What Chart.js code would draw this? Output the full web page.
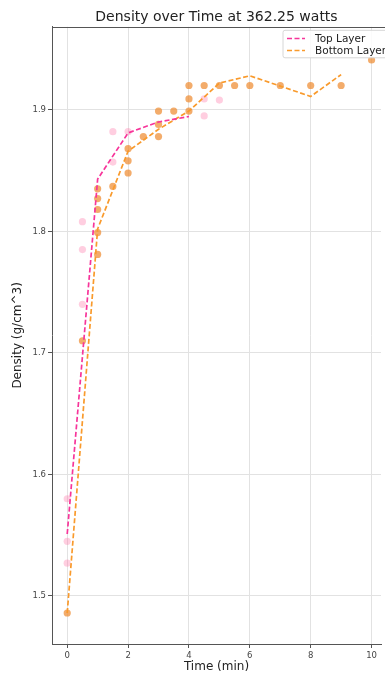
<!DOCTYPE html>
<html>
<head>
<meta charset="utf-8">
<script src="https://cdn.jsdelivr.net/npm/chart.js@4.4.1/dist/chart.umd.min.js"></script>
<style>
  html, body { margin: 0; padding: 0; background: #ffffff; overflow: hidden; }
  #wrap { width: 385px; height: 673px; }
  canvas { display: block; }
</style>
</head>
<body>
<div id="wrap"><canvas id="c" width="385" height="673"></canvas></div>
<script>
// ---- data ----
const chartTitle = "Density over Time at 362.25 watts";
const xAxisLabel = "Time (min)";
const yAxisLabel = "Density (g/cm^3)";

const xTickStep = 2;
const yTickStep = 0.1;

// scatter samples (Top Layer)
const topTimes   = [0, 0, 0, 0.5, 0.5, 0.5, 1.5, 1.5, 2, 4.5, 4.5, 5];
const topDensity = [1.580, 1.545, 1.527, 1.808, 1.785, 1.740, 1.882, 1.857, 1.882, 1.909, 1.895, 1.908];

// scatter samples (Bottom Layer)
const bottomTimes   = [0, 0.5, 1, 1, 1, 1, 1, 1.5, 2, 2, 2, 2.5, 3, 3, 3, 3.5, 4, 4, 4, 4.5, 5, 5.5, 6, 7, 8, 9, 10];
const bottomDensity = [1.486, 1.710, 1.835, 1.827, 1.818, 1.799, 1.781, 1.837, 1.868, 1.858, 1.848, 1.878, 1.899, 1.888, 1.878, 1.899, 1.920, 1.909, 1.899, 1.920, 1.920, 1.920, 1.920, 1.920, 1.920, 1.920, 1.941];

// dashed mean lines
const topLineTimes   = [0, 1, 2, 3, 4];
const topLineDensity = [1.551, 1.843, 1.881, 1.890, 1.8945];
const bottomLineTimes   = [0, 1, 2, 3, 4, 5, 6, 8, 9];
const bottomLineDensity = [1.486, 1.802, 1.866, 1.884, 1.899, 1.922, 1.928, 1.911, 1.929];

const seriesLabels = ["Top Layer", "Bottom Layer"];

// ---- build ----
const toPts = (xs, ys) => xs.map((x, i) => ({ x: x, y: ys[i] }));
const FONT = "'DejaVu Sans', 'Liberation Sans', sans-serif";

const framePlugin = {
  id: 'frame',
  beforeDatasetsDraw(chart) {
    const { ctx, chartArea: a } = chart;
    ctx.save();
    ctx.strokeStyle = '#555555';
    ctx.lineWidth = 1;
    ctx.beginPath();
    const y = Math.round(a.top) + 0.5;
    ctx.moveTo(a.left, y);
    ctx.lineTo(chart.width, y);
    ctx.stroke();
    ctx.restore();
  }
};

const legendPlugin = {
  id: 'mplLegend',
  afterDraw(chart) {
    const { ctx, chartArea: a } = chart;
    const items = chart.data.datasets.filter(d => d.showLine);
    const x0 = 283, y0 = a.top + 3.5, w = 110, h = 27.5;
    ctx.save();
    ctx.beginPath();
    ctx.roundRect(x0, y0, w, h, 2);
    ctx.fillStyle = 'rgba(255,255,255,0.85)';
    ctx.fill();
    ctx.strokeStyle = '#d6d6d6';
    ctx.lineWidth = 1;
    ctx.stroke();
    items.forEach((d, i) => {
      const y = y0 + 8.2 + i * 12;
      ctx.beginPath();
      ctx.setLineDash(d.borderDash);
      ctx.strokeStyle = d.borderColor;
      ctx.lineWidth = d.borderWidth;
      ctx.moveTo(x0 + 4, y);
      ctx.lineTo(x0 + 22, y);
      ctx.stroke();
      ctx.setLineDash([]);
      ctx.fillStyle = '#222222';
      ctx.font = '10.5px ' + FONT;
      ctx.textBaseline = 'middle';
      ctx.textAlign = 'left';
      ctx.fillText(d.label, x0 + 32, y + 0.5);
    });
    ctx.restore();
  }
};

new Chart(document.getElementById('c'), {
  type: 'scatter',
  data: {
    datasets: [
      {
        label: seriesLabels[0],
        data: toPts(topLineTimes, topLineDensity),
        showLine: true,
        borderColor: '#f7359a',
        borderWidth: 1.7,
        borderDash: [5, 2.5],
        pointRadius: 0,
        fill: false,
        order: 0
      },
      {
        label: seriesLabels[1],
        data: toPts(bottomLineTimes, bottomLineDensity),
        showLine: true,
        borderColor: '#f99a2c',
        borderWidth: 1.7,
        borderDash: [5, 2.5],
        pointRadius: 0,
        fill: false,
        order: 1
      },
      {
        label: seriesLabels[0] + ' samples',
        data: toPts(topTimes, topDensity),
        backgroundColor: 'rgba(255,120,170,0.36)',
        borderWidth: 0,
        pointRadius: 3.6,
        order: 3
      },
      {
        label: seriesLabels[1] + ' samples',
        data: toPts(bottomTimes, bottomDensity),
        backgroundColor: 'rgba(238,140,50,0.72)',
        borderWidth: 0,
        pointRadius: 3.6,
        order: 2
      }
    ]
  },
  options: {
    responsive: false,
    animation: false,
    devicePixelRatio: 1,
    layout: { padding: { left: 4, right: 0.5, top: 0, bottom: 0 } },
    plugins: {
      legend: { display: false },
      tooltip: { enabled: false },
      title: {
        display: true,
        text: chartTitle,
        fullSize: false,
        color: '#222222',
        font: { family: FONT, size: 14, weight: 'normal', lineHeight: 1.2 },
        padding: { top: 9, bottom: 1 }
      }
    },
    scales: {
      x: {
        type: 'linear',
        min: -0.5,
        max: 10.31,
        afterFit: s => { s.height = 29; },
        ticks: {
          stepSize: xTickStep,
          includeBounds: false,
          color: '#444444',
          font: { family: FONT, size: 8.5 },
          padding: 3,
          maxRotation: 0
        },
        grid: { color: '#e2e2e2', lineWidth: 1, tickColor: '#555555', tickLength: 4 },
        border: { color: '#555555', width: 1 },
        title: {
          display: true,
          text: xAxisLabel,
          color: '#222222',
          font: { family: FONT, size: 12, lineHeight: 1 },
          padding: { top: 0, bottom: 0 }
        }
      },
      y: {
        type: 'linear',
        min: 1.4605,
        max: 1.9683,
        afterFit: s => { s.width = 48; },
        ticks: {
          stepSize: yTickStep,
          includeBounds: false,
          color: '#444444',
          font: { family: FONT, size: 8.5 },
          padding: 2,
          callback: v => v.toFixed(1)
        },
        grid: { color: '#e2e2e2', lineWidth: 1, tickColor: '#555555', tickLength: 4 },
        border: { color: '#555555', width: 1 },
        title: {
          display: true,
          text: yAxisLabel,
          color: '#222222',
          font: { family: FONT, size: 12, lineHeight: 1.2 },
          padding: { top: 7, bottom: 0 }
        }
      }
    }
  },
  plugins: [framePlugin, legendPlugin]
});
</script>
</body>
</html>
